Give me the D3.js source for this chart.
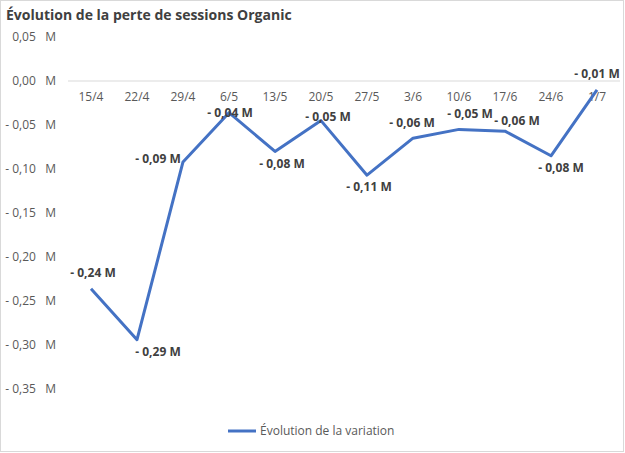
<!DOCTYPE html>
<html><head><meta charset="utf-8">
<script src="https://cdn.jsdelivr.net/npm/d3@7"></script>
<style>body{margin:0;background:#fff}text{font-family:"Open Sans","Liberation Sans",sans-serif}</style>
</head><body><svg id="c" width="625" height="453"></svg>
<script>
const categories=["15/4","22/4","29/4","6/5","13/5","20/5","27/5","3/6","10/6","17/6","24/6","1/7"];
const values=[-0.236,-0.294,-0.092,-0.036,-0.080,-0.045,-0.107,-0.065,-0.055,-0.057,-0.085,-0.010];
const labels=["- 0,24 M","- 0,29 M","- 0,09 M","- 0,04 M","- 0,08 M","- 0,05 M","- 0,11 M","- 0,06 M","- 0,05 M","- 0,06 M","- 0,08 M","- 0,01 M"];
const yTicks=[0.05,0,-0.05,-0.1,-0.15,-0.2,-0.25,-0.3,-0.35];
const labelOff=[[2,-16],[21,12],[-25,-3],[1,0],[7,13],[7,-4],[2,12],[-1,-15],[11,-15],[12,-10],[10,12],[0,-16]];
const svg=d3.select("#c");
svg.append("rect").attr("x",0.5).attr("y",0.5).attr("width",623).attr("height",451).attr("fill","#fff").attr("stroke","#d9d9d9");
svg.append("text").attr("x",6).attr("y",20).attr("font-size",14).attr("font-weight","bold").attr("fill","#404040").text("Évolution de la perte de sessions Organic");
const x=d3.scalePoint().domain(categories).range([91,597]);
const y=d3.scaleLinear().domain([-0.35,0.05]).range([389,37]);
yTicks.forEach(t=>{
  svg.append("text").attr("x",56).attr("y",y(t)+4).attr("text-anchor","end").attr("font-size",12).attr("fill","#595959")
   .text((t<0?"- ":"")+d3.format(".2f")(Math.abs(t)).replace(".",",")+"\u00a0\u00a0\u00a0M");
});
svg.append("line").attr("x1",68).attr("x2",620).attr("y1",y(0)).attr("y2",y(0)).attr("stroke","#d9d9d9");
categories.forEach(c=>svg.append("text").attr("x",x(c)).attr("y",y(0)+20).attr("text-anchor","middle").attr("font-size",12).attr("fill","#595959").text(c));
svg.append("path").datum(values).attr("fill","none").attr("stroke","#4472c4").attr("stroke-width",3).attr("stroke-linejoin","round")
 .attr("d",d3.line().x((d,i)=>x(categories[i])).y(d=>y(d)));
values.forEach((v,i)=>svg.append("text").attr("x",x(categories[i])+labelOff[i][0]).attr("y",y(v)+labelOff[i][1]+4)
 .attr("text-anchor","middle").attr("font-size",12).attr("font-weight","bold").attr("fill","#404040").text(labels[i]));
svg.append("line").attr("x1",228).attr("x2",256).attr("y1",431).attr("y2",431).attr("stroke","#4472c4").attr("stroke-width",3);
svg.append("text").attr("x",260).attr("y",435).attr("font-size",12).attr("fill","#595959").text("Évolution de la variation");
</script></body></html>
